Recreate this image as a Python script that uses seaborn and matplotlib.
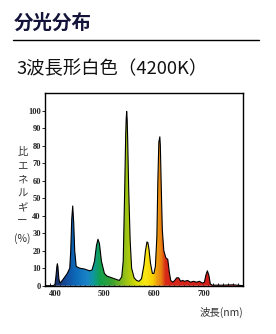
import numpy as np
import pandas as pd
import matplotlib
matplotlib.use("Agg")
import matplotlib.pyplot as plt
import seaborn as sns
from matplotlib.colors import LinearSegmentedColormap, Normalize
from matplotlib import font_manager

# ---- data ----
wavelength = [380, 395, 400, 402, 404, 405, 406, 408, 410, 415, 420, 425, 430, 432, 434, 436,
              438, 440, 443, 450, 460, 470, 475, 480, 484, 487, 490, 494, 500, 505, 510, 520,
              530, 535, 538, 541, 543, 544, 545, 546, 547, 549, 552, 555, 560, 565, 570, 575,
              580, 583, 586, 588, 590, 593, 597, 600, 603, 606, 608, 610, 612, 613, 615, 617,
              620, 624, 628, 631, 634, 638, 642, 646, 650, 654, 658, 662, 668, 674, 680, 686,
              692, 698, 702, 705, 708, 711, 714, 718, 725, 740, 760, 780]
energy = [0, 0, 0.5, 5, 11, 12.5, 11, 4, 1.5, 3, 5, 7, 10, 20, 38, 45.5,
          36, 20, 11, 10, 9.5, 8.5, 9, 14, 23, 26.5, 24, 14, 7, 5.5, 5, 4,
          3, 5, 14, 55, 86, 95, 99.5, 95, 84, 56, 26, 10, 4.5, 3, 2.5, 4,
          12, 20, 25, 24.5, 21, 13, 7, 7, 11, 28, 60, 82, 85, 80, 55, 32,
          20, 16, 15, 8, 3, 2, 3, 4.5, 4.5, 2.5, 3, 2.5, 3, 2, 2.5, 2,
          2.5, 1.5, 2, 6, 8.5, 6, 1, 0.3, 0.3, 0.3, 0.5, 0]
x_ticks = [400, 500, 600, 700]
y_ticks = [0, 10, 20, 30, 40, 50, 60, 70, 80, 90, 100]
title = "分光分布"
subtitle = "3波長形白色（4200K）"
ylabel_chars = ["比", "エ", "ネ", "ル", "ギ", "ー"]
ylabel_unit = "(%)"
xlabel = "波長(nm)"

# ---- style ----
spectrum_stops = [(380, "#1a2a60"), (405, "#1a3472"), (425, "#1250a0"), (440, "#0d68b8"),
                  (465, "#1a84c8"), (478, "#0f9a9a"), (490, "#10a050"), (515, "#38a030"),
                  (535, "#80b820"), (548, "#a8c810"), (565, "#d8dc00"), (582, "#fae818"),
                  (598, "#f8d000"), (606, "#f0a010"), (615, "#e88010"), (624, "#d82818"),
                  (780, "#d01818")]

sns.set_theme(style="white")
plt.rcParams["font.family"] = ["Noto Sans CJK JP", "DejaVu Sans"]

avail = {f.name for f in font_manager.fontManager.ttflist}
num_font = "DejaVu Serif Condensed" if "DejaVu Serif Condensed" in avail else "Liberation Serif"

fig = plt.figure(figsize=(2.76, 3.34), dpi=100)
fig.patch.set_facecolor("white")
ax = fig.add_axes([45 / 276, 1 - 285.7 / 334, 198 / 276, (285.7 - 93) / 334])

df = pd.DataFrame({"wl": wavelength, "e": energy})

lo, hi = 380, 780
cmap = LinearSegmentedColormap.from_list(
    "spec", [((w - lo) / (hi - lo), c) for w, c in spectrum_stops])
poly = ax.fill_between(df["wl"], 0, df["e"], color="none", lw=0)
grad = np.linspace(lo, hi, 800).reshape(1, -1)
im = ax.imshow(grad, extent=[lo, hi, 0, 110], aspect="auto", cmap=cmap,
               norm=Normalize(lo, hi), origin="lower", zorder=1, interpolation="bilinear")
im.set_clip_path(poly.get_paths()[0], transform=ax.transData)
sns.lineplot(data=df, x="wl", y="e", ax=ax, color="black", lw=0.8, zorder=3)

ax.set_xlim(lo, hi)
ax.set_ylim(0, 110)
ax.set_xlabel("")
ax.set_ylabel("")
for s in ax.spines.values():
    s.set_color("black")
    s.set_linewidth(1.0)

ax.set_xticks(x_ticks)
ax.set_xticks(np.arange(390, 780, 10), minor=True)
ax.set_yticks(y_ticks)
ax.tick_params(axis="x", which="both", direction="in", length=2.5, width=0.7,
               bottom=True, pad=3, labelsize=6)
ax.tick_params(axis="y", which="major", direction="out", length=2.5, width=0.7,
               left=True, pad=0.5, labelsize=6)
for lab in ax.get_xticklabels() + ax.get_yticklabels():
    lab.set_fontfamily(num_font)
    lab.set_fontweight("bold")
    lab.set_color("#222222")

# texts
fig.text(14 / 276, 1 - 23 / 334, title, fontsize=14, fontweight="bold",
         color="#14143a", va="center", ha="left")
fig.add_artist(plt.Line2D([13 / 276, 259 / 276], [1 - 40 / 334, 1 - 40 / 334],
                          color="black", lw=1.0))
fig.text(16 / 276, 1 - 69 / 334, subtitle, fontsize=13.2, color="#111111",
         va="center", ha="left")
for i, ch in enumerate(ylabel_chars):
    fig.text(22.5 / 276, 1 - (152 + 14 * i) / 334, ch, fontsize=7.5, color="#333333",
             ha="center", va="center", rotation=0)
fig.text(22.5 / 276, 1 - 239 / 334, ylabel_unit, fontsize=7.5, color="#333333",
         ha="center", va="center")
fig.text(243 / 276, 1 - 312 / 334, xlabel, fontsize=7.5, color="#333333",
         ha="right", va="center")

fig.savefig("out.png", dpi=100, facecolor="white")
